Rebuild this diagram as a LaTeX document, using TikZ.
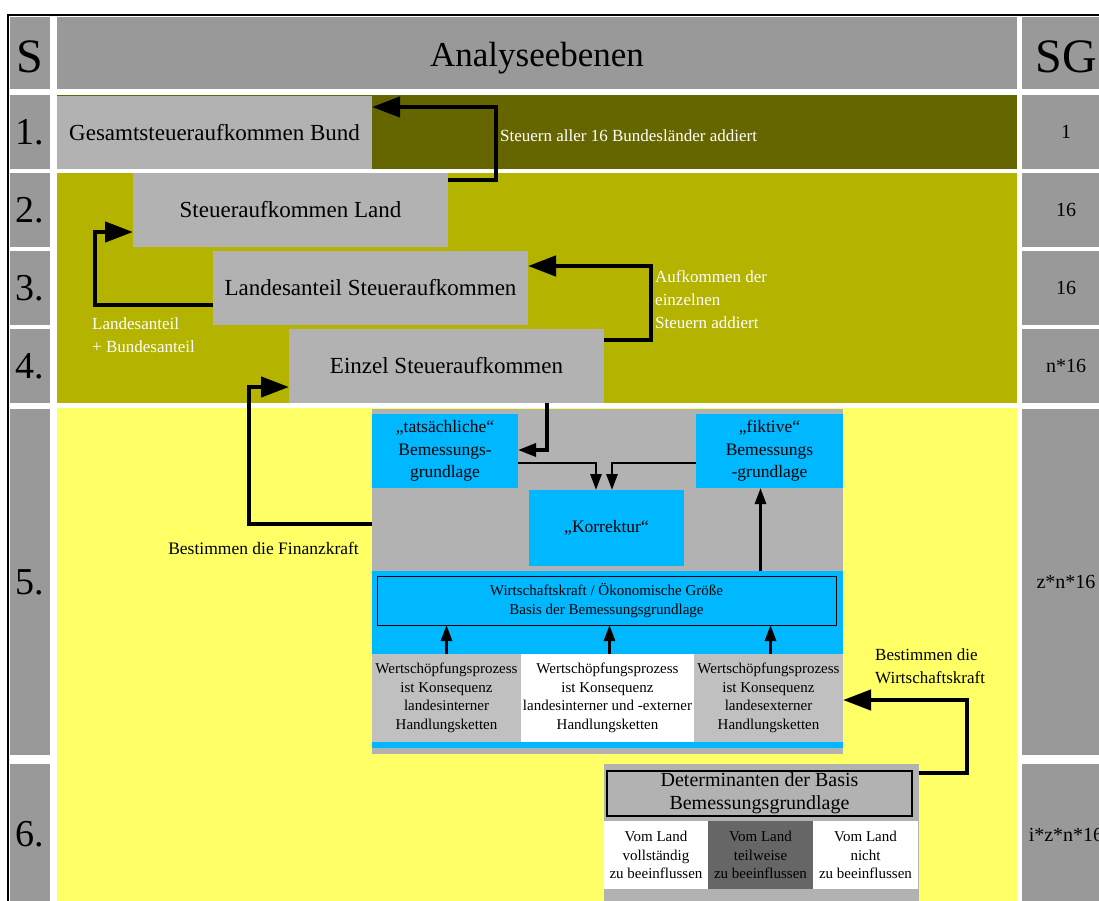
\documentclass[tikz,border=0pt]{standalone}
\usepackage{fontspec}
\setmainfont{Liberation Serif}
\usetikzlibrary{arrows.meta,calc}

\definecolor{cellgray}{HTML}{999999}
\definecolor{boxgray}{HTML}{B2B2B2}
\definecolor{procgray}{HTML}{C0C0C0}
\definecolor{darkolive}{HTML}{666600}
\definecolor{bandolive}{HTML}{B3B300}
\definecolor{paleyellow}{HTML}{FFFF66}
\definecolor{skyblue}{HTML}{00B8FF}
\definecolor{inflgray}{HTML}{666666}

\begin{document}
\begin{tikzpicture}[x=1pt,y=-1pt,
  rbox/.style 2 args={rectangle, inner sep=0pt, outer sep=0pt, anchor=north west,
    minimum width=#1, minimum height=#2},
  fhuge/.style={font=\fontsize{48}{52}\selectfont},
  ftitle/.style={font=\fontsize{35}{40}\selectfont},
  flabel/.style={font=\fontsize{38}{42}\selectfont},
  fsg/.style={font=\fontsize{20}{24}\selectfont},
  fbig/.style={font=\fontsize{23}{27}\selectfont},
  fnote/.style={font=\fontsize{17}{23}\selectfont},
  fmid/.style={font=\fontsize{17.5}{22.3}\selectfont},
  fdet/.style={font=\fontsize{20}{23}\selectfont},
  fsmall/.style={font=\fontsize{15}{18.5}\selectfont},
  bigarr/.style={line width=4.5pt, -{Triangle[length=28pt,width=20pt]}},
  midarr/.style={line width=3.3pt, -{Triangle[length=18pt,width=13pt]}},
  smallarr/.style={line width=2.8pt, -{Triangle[length=16pt,width=11pt]}},
]
\useasboundingbox (0,0) rectangle (1099,900);
\clip (0,0) rectangle (1099,900);
\fill[white] (0,0) rectangle (1099,900);

% outer frame
\draw[line width=2pt] (8,910) -- (8,15) -- (1110,15);

% level column
\node[rbox={40pt}{72pt}, fill=cellgray] (sHead) at (10,17) {};
\node[fhuge, inner sep=0pt] (sHeadTxt) at ($(sHead.center)+(0,4)$) {S};
\node[rbox={40pt}{74pt}, fill=cellgray, flabel] (s1) at (10,95) {1.};
\node[rbox={40pt}{74pt}, fill=cellgray, flabel] (s2) at (10,173) {2.};
\node[rbox={40pt}{74pt}, fill=cellgray, flabel] (s3) at (10,251) {3.};
\node[rbox={40pt}{74pt}, fill=cellgray, flabel] (s4) at (10,329) {4.};
\node[rbox={40pt}{346pt}, fill=cellgray, flabel] (s5) at (10,409) {5.};
\node[rbox={40pt}{141pt}, fill=cellgray, flabel] (s6) at (10,764) {6.};

% main column bands
\node[rbox={960pt}{72pt}, fill=cellgray] (head) at (57,17) {};
\node[ftitle, inner sep=0pt] (headTxt) at ($(head.center)+(0,5)$) {Analyseebenen};
\node[rbox={960pt}{74pt}, fill=darkolive] (lvl1) at (57,95) {};
\node[rbox={960pt}{230pt}, fill=bandolive] (lvl24) at (57,173) {};
\node[rbox={960pt}{497pt}, fill=paleyellow] (lvl56) at (57,408) {};

% count column
\node[rbox={88pt}{72pt}, fill=cellgray] (gHead) at (1022,17) {};
\node[fhuge, inner sep=0pt] (gHeadTxt) at ($(gHead.center)+(0,4)$) {SG};
\node[rbox={88pt}{74pt}, fill=cellgray, fsg] (g1) at (1022,95) {1};
\node[rbox={88pt}{74pt}, fill=cellgray, fsg] (g2) at (1022,173) {16};
\node[rbox={88pt}{74pt}, fill=cellgray, fsg] (g3) at (1022,251) {16};
\node[rbox={88pt}{74pt}, fill=cellgray, fsg] (g4) at (1022,329) {n*16};
\node[rbox={88pt}{346pt}, fill=cellgray, fsg] (g5) at (1022,409) {z*n*16};
\node[rbox={88pt}{141pt}, fill=cellgray, fsg] (g6) at (1022,764) {i*z*n*16};

% tax revenue levels
\node[rbox={315pt}{73pt}, fill=boxgray, fbig] (gesamt) at (57,96) {Gesamtsteueraufkommen Bund};
\node[rbox={315pt}{74pt}, fill=boxgray, fbig] (land) at (133,173) {Steueraufkommen Land};
\node[rbox={315pt}{74pt}, fill=boxgray, fbig] (lanteil) at (213,251) {Landesanteil Steueraufkommen};
\node[rbox={315pt}{74pt}, fill=boxgray, fbig] (einzel) at (289,329) {Einzel Steueraufkommen};

% assessment basis panel
\node[rbox={471pt}{345pt}, fill=boxgray] (panel) at (372,409) {};
\node[rbox={146pt}{74pt}, fill=skyblue, fmid, align=center] (tats) at (372,414)
  {„tatsächliche“\\Bemessungs-\\grundlage};
\node[rbox={147pt}{74pt}, fill=skyblue, fmid, align=center] (fik) at (696,414)
  {„fiktive“\\Bemessungs\\-grundlage};
\node[rbox={155pt}{76pt}, fill=skyblue, fmid] (korr) at (529,490) {„Korrektur“};
\node[rbox={471pt}{177pt}, fill=skyblue] (wband) at (372,571) {};
\node[rbox={459pt}{49pt}, draw=black, line width=1pt, fsmall, align=center] (wrect) at (377,576)
  {Wirtschaftskraft / Ökonomische Größe\\Basis der Bemessungsgrundlage};
\node[rbox={149pt}{88pt}, fill=procgray, fsmall, align=center] (pl) at (372,654)
  {Wertschöpfungsprozess\\ist Konsequenz\\landesinterner\\Handlungsketten};
\node[rbox={173pt}{88pt}, fill=white, fsmall, align=center] (pm) at (521,654)
  {Wertschöpfungsprozess\\ist Konsequenz\\landesinterner und -externer\\Handlungsketten};
\node[rbox={149pt}{88pt}, fill=procgray, fsmall, align=center] (pr) at (694,654)
  {Wertschöpfungsprozess\\ist Konsequenz\\landesexterner\\Handlungsketten};

% determinants panel
\node[rbox={315pt}{141pt}, fill=boxgray] (det) at (604,764) {};
\node[rbox={305pt}{45pt}, draw=black, line width=1.2pt, fdet, align=center] (detrect) at (607,771)
  {Determinanten der Basis\\Bemessungsgrundlage};
\node[rbox={104pt}{68pt}, fill=white, fsmall, align=center] (v1) at (604,821)
  {Vom Land\\vollständig\\zu beeinflussen};
\node[rbox={105pt}{68pt}, fill=inflgray, fsmall, align=center] (v2) at (708,821)
  {Vom Land\\teilweise\\zu beeinflussen};
\node[rbox={105pt}{68pt}, fill=white, fsmall, align=center] (v3) at (813,821)
  {Vom Land\\nicht\\zu beeinflussen};

% annotations
\node[anchor=west, inner sep=0pt, text=white, fnote] (tSteuern) at (500,136)
  {Steuern aller 16 Bundesländer addiert};
\node[anchor=west, inner sep=0pt, text=white, fnote, align=left] (tLandes) at (92,335)
  {Landesanteil\\+ Bundesanteil};
\node[anchor=west, inner sep=0pt, text=white, fnote, align=left] (tAufk) at (655,300)
  {Aufkommen der\\einzelnen\\Steuern addiert};
\node[anchor=east, inner sep=0pt, fmid] (tFinanz) at (359,548) {Bestimmen die Finanzkraft};
\node[anchor=west, inner sep=0pt, fnote, align=left] (tWirt) at (875,666)
  {Bestimmen die\\Wirtschaftskraft};

% connectors between the levels
\draw[bigarr] ($(land.north east)+(0,7)$) -- ++(48,0) |- ($(gesamt.north east)+(0,11)$);
\draw[bigarr] ($(lanteil.north west)+(0,54)$) -- ++(-118,0) |- ($(land.north west)+(0,59)$);
\draw[bigarr] ($(einzel.north east)+(0,11)$) -- ++(47,0) |- ($(lanteil.north east)+(0,15)$);
\draw[bigarr] ($(panel.north west)+(0,115)$) -- ++(-123,0) |- ($(einzel.north west)+(0,58)$);
\draw[bigarr] ($(det.north east)+(0,9)$) -- ++(48,0) |- ($(pr.north east)+(0,46)$);

% connectors inside the assessment basis panel
\draw[midarr] ($(einzel.south west)+(258,0)$) |- ($(tats.north east)+(0,36)$);
\draw[smallarr] ($(tats.north east)+(0,49)$) -| ($(korr.north west)+(67,0)$);
\draw[smallarr] ($(fik.north west)+(0,49)$) -| ($(korr.north west)+(83,0)$);
\coordinate (fikIn) at ($(fik.south)+(-9,0)$);
\draw[smallarr] (fikIn |- wband.north) -- (fikIn);
\draw[smallarr] (pl.north) -- (pl.north |- wrect.south);
\draw[smallarr] ($(pm.north)+(2,0)$) -- ($(pm.north |- wrect.south)+(2,0)$);
\draw[smallarr] ($(pr.north)+(2,0)$) -- ($(pr.north |- wrect.south)+(2,0)$);
\end{tikzpicture}
\end{document}
